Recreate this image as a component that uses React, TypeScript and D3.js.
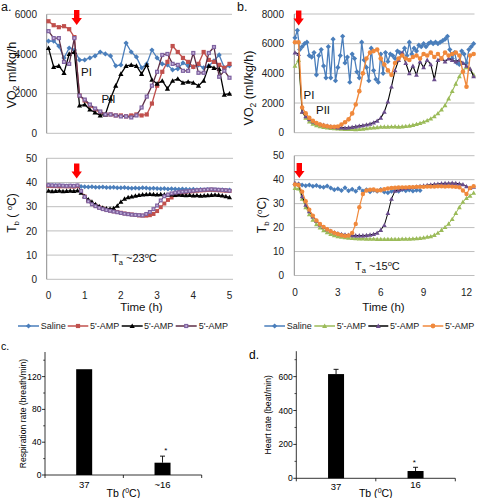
import React from 'react';
import * as d3 from 'd3';

// ---------- Panel a data (VO2, 36 samples over 0-5 h) ----------
const aVO2Saline = [4650,4650,4400,3800,4300,4200,3700,3700,3800,3900,4100,4000,3900,3400,3450,4550,4100,3850,3300,3500,4200,3800,3500,3450,3200,3250,3550,3400,3350,3450,3300,3400,3650,3950,3300,3400];
const aVO2Red = [5650,5450,5350,5400,5250,4850,1900,1650,1400,1200,1050,950,950,900,900,850,900,950,900,950,1500,2400,3100,3600,4400,4100,3800,3600,3350,3500,4100,3700,3600,3450,3300,3500];
const aVO2Black = [4300,3350,3400,3050,4000,4100,1400,1450,1200,1050,900,950,1750,2400,3000,3400,3450,3400,3000,3450,2700,2500,2650,2250,2650,2750,2550,2600,2550,2400,2650,3400,3300,3250,1950,2000];
const aVO2Purple = [5150,4800,4800,3600,3500,4800,1900,1700,1450,1250,1100,950,950,900,850,850,800,900,1300,1850,2400,3100,3950,4000,3500,3450,3150,3150,4050,3050,3050,4050,4350,2850,3150,2800];

// ---------- Panel a data (Tb, 51 samples every 0.1 h) ----------
const aTbSaline = [38.9,38.8,38.8,38.7,38.7,38.6,38.6,38.6,38.6,38.3,38.2,38.1,38.2,38.0,38.0,38.1,37.9,37.9,38.0,37.8,37.8,37.9,37.7,37.6,37.7,37.6,37.8,37.7,37.5,37.6,37.5,37.4,37.5,37.3,37.4,37.3,37.2,37.3,37.2,37.1,37.2,37.0,37.1,37.0,37.1,36.9,37.0,36.9,37.0,36.8,36.9];
const aTbRed = [38.6,38.5,38.5,38.4,38.5,38.4,38.4,38.3,38.5,36.5,34.2,32.4,31.2,30.4,29.7,29.2,28.7,28.4,28.1,27.8,27.5,27.2,27.0,26.8,26.6,26.4,26.3,26.3,26.5,27.0,28.2,29.8,31.3,32.8,33.8,34.8,35.4,35.9,36.1,36.3,36.4,36.6,36.7,36.8,36.9,37.0,36.9,36.8,36.7,36.6,36.5];
const aTbBlack = [36.6,36.4,36.5,36.6,36.4,36.5,36.6,36.5,36.7,35.8,34.3,33.0,32.0,31.0,30.2,29.6,29.3,29.2,29.4,30.4,32.0,33.3,33.9,34.2,34.5,34.8,35.0,35.1,35.2,35.1,35.0,35.1,35.0,34.9,35.0,34.8,34.9,34.8,34.7,34.8,34.6,34.7,34.5,34.6,34.7,34.8,34.9,34.8,34.6,34.3,33.9];
const aTbPurple = [38.9,38.8,38.7,38.8,38.7,38.6,38.7,38.6,38.8,36.5,34.0,32.2,31.0,30.2,29.5,29.0,28.6,28.3,28.0,27.7,27.4,27.1,26.9,26.7,26.6,26.5,26.4,27.0,27.8,29.0,30.5,32.6,34.3,35.0,35.5,35.8,36.0,36.2,36.3,36.5,36.6,36.8,36.9,37.0,37.1,37.2,37.1,37.0,36.9,36.8,36.6];

// ---------- Panel b data (VO2) ----------
// saline every 10 min (0-12.5 h), others every 15 min
const bVO2Saline = [6400,6900,5600,5800,6000,6100,5200,5100,5400,3900,5200,5600,4500,3700,5800,3700,6300,3500,4400,5200,6500,4700,5100,3400,5300,5000,4100,3700,6100,4900,4400,3500,5700,4200,3600,3400,5300,4000,5400,4800,5300,5200,5000,5500,5400,5300,5700,5200,6100,5300,5700,5500,5900,5800,6000,5800,6000,6100,6000,6100,6000,6100,6200,6300,6500,5600,5000,5400,4700,4600,5500,5300,4700,5600,5800,6000];
const bVO2Green = [4500,4900,1400,1000,750,600,500,430,380,340,310,290,270,260,250,240,240,230,240,260,290,320,350,370,390,400,400,410,420,400,420,440,470,520,580,650,730,830,950,1100,1300,1550,1850,2300,2800,3300,3800,4200,4400,4300,3900];
const bVO2Purple = [5400,5300,1400,1100,900,750,650,580,520,470,420,380,350,340,330,350,380,420,460,500,540,600,680,800,1000,1400,2100,3100,4200,4900,5400,4700,4000,4500,3900,4800,4400,4900,4600,3600,4900,5000,4800,5000,4900,4800,4900,4700,4500,4300,3800];
const bVO2Orange = [6100,6100,1700,1300,1000,800,650,550,480,430,400,400,420,550,700,900,1300,1900,2800,4000,5000,5400,5500,5600,5000,4600,4200,3900,4700,5000,5200,5000,4900,5100,5200,5000,5300,5200,5400,5100,5300,5000,5400,5200,5300,5400,5200,4100,3100,5200,5300];

// ---------- Panel b data (Tb, every 15 min) ----------
const bTbSaline = [38.0,38.2,37.8,37.5,37.8,37.2,37.6,37.0,36.8,37.4,36.5,35.8,36.2,35.5,36.6,35.4,36.0,35.2,36.5,35.3,35.8,35.0,35.6,35.2,35.9,34.8,34.5,35.2,35.6,35.2,35.8,35.4,35.7,35.3,35.6,35.5];
const bTbGreen = [36.5,36.3,32.0,28.5,25.5,23.2,21.4,20.0,18.9,18.0,17.3,16.8,16.4,16.1,15.9,15.7,15.6,15.5,15.4,15.4,15.3,15.3,15.3,15.2,15.2,15.2,15.2,15.2,15.2,15.2,15.3,15.3,15.3,15.4,15.5,15.6,15.8,16.1,16.3,16.9,17.8,19.0,20.2,21.6,23.5,26.0,28.5,30.7,32.3,33.3,34.5];
const bTbPurple = [38.6,38.2,33.0,29.5,26.8,24.6,22.8,21.3,20.2,19.3,18.6,18.0,17.6,17.3,17.1,16.9,16.8,16.7,16.7,16.7,16.8,17.0,17.3,17.8,19.0,21.0,26.0,32.0,35.3,35.8,36.2,36.5,36.7,36.9,37.1,37.3,37.5,37.7,37.9,38.1,38.2,38.4,38.5,38.5,38.6,38.5,38.3,38.0,37.2,36.5,37.0];
const bTbOrange = [38.0,37.8,35.0,31.0,27.5,25.0,23.0,21.5,20.3,19.3,18.5,17.8,17.3,16.8,16.5,16.7,17.8,21.5,28.5,34.0,35.5,35.8,35.9,35.5,35.6,36.0,36.3,36.5,36.6,36.7,36.8,36.8,36.9,36.9,37.0,37.0,37.0,37.1,37.1,37.1,37.2,37.2,37.1,37.2,37.1,37.0,36.8,35.5,34.0,36.5,37.3];

// ---------- Panels c, d ----------
const barCats = ['37', '~16'];
const respRate = [129, 15];
const respErr = [0, 8];
const heartCats = ['37', '16'];
const heartRate = [615, 43];
const heartErr = [28, 22];

const aVO2Ticks = [0, 2000, 4000, 6000];
const bVO2Ticks = [0, 2000, 4000, 6000, 8000];
const tbTicks = [0, 10, 20, 30, 40, 50];
const aTimeTicks = [0, 1, 2, 3, 4, 5];
const bTimeTicks = [0, 3, 6, 9, 12];
const legendNames = ['Saline', "5'-AMP", "5'-AMP", "5'-AMP"];

const FONT = "'Liberation Sans', Arial, Helvetica, sans-serif";
const GRID = '#BEBEBE';
const AXIS = '#8C8C8C';

const C = {
  blue: '#4A7EBB',
  red: '#C0504D',
  black: '#000000',
  purple: '#8064A2',
  purpleLine: '#5C2E46',
  green: '#9BBB59',
  bPurple: '#6A4C8C',
  orange: '#F0893C',
};

const aT = d3.range(aVO2Saline.length).map((i) => (i * 5) / (aVO2Saline.length - 1));
const aTbT = d3.range(aTbSaline.length).map((i) => i * 0.1);
const bSalT = d3.range(bVO2Saline.length).map((i) => i / 6);
const bT = d3.range(51).map((i) => i * 0.25);

type Kind = 'diamond' | 'square' | 'triangle' | 'circle' | 'squareDot';

function markerPath(kind: Kind, x: number, y: number, r: number) {
  if (kind === 'diamond') return `M${x},${y - r}L${x + r},${y}L${x},${y + r}L${x - r},${y}Z`;
  if (kind === 'triangle') return `M${x},${y - r}L${x + r},${y + r * 0.8}L${x - r},${y + r * 0.8}Z`;
  if (kind === 'circle') return `M${x - r},${y}a${r},${r} 0 1,0 ${2 * r},0a${r},${r} 0 1,0 ${-2 * r},0Z`;
  return `M${x - r},${y - r}h${2 * r}v${2 * r}h${-2 * r}Z`;
}

function Marker({ kind, x, y, r, color }: any) {
  if (kind === 'squareDot') {
    return (
      <g>
        <path d={markerPath('square', x, y, r)} fill={color} />
        <path d={markerPath('square', x, y, r * 0.4)} fill="#C9B8DD" />
      </g>
    );
  }
  return <path d={markerPath(kind, x, y, r)} fill={color} />;
}

function Series({ ts, vals, sx, sy, color, lineColor, kind, r, lw = 1.3 }: any) {
  const pts: [number, number][] = vals.map((v: number, i: number) => [sx(ts[i]), sy(v)]);
  const d = d3.line()(pts) || '';
  return (
    <g>
      <path d={d} fill="none" stroke={lineColor || color} strokeWidth={lw} strokeLinejoin="round" />
      {pts.map((p, i) => (
        <Marker key={i} kind={kind} x={p[0]} y={p[1]} r={r} color={color} />
      ))}
    </g>
  );
}

function Arrow({ cx, y0 }: { cx: number; y0: number }) {
  const d = `M${cx - 2.7},${y0}H${cx + 2.7}V${y0 + 8}H${cx + 5.2}L${cx},${y0 + 15}L${cx - 5.2},${y0 + 8}H${cx - 2.7}Z`;
  return <path d={d} fill="#FF0000" />;
}

function YGrid({ ticks, sy, x0, x1, labelX, fs = 10 }: any) {
  return (
    <g>
      {ticks.map((t: number) => (
        <g key={t}>
          <line x1={x0} x2={x1} y1={sy(t)} y2={sy(t)} stroke={GRID} strokeWidth={1} />
          <text x={labelX} y={sy(t) + 3.6} textAnchor="end" fontSize={fs} fill="#222">
            {t}
          </text>
        </g>
      ))}
      <line x1={x0} x2={x0} y1={sy(ticks[ticks.length - 1])} y2={sy(0)} stroke={AXIS} strokeWidth={1} />
    </g>
  );
}

function LegendItem({ x0, x1, tx, y, color, lineColor, kind, r, name }: any) {
  return (
    <g>
      <line x1={x0} x2={x1} y1={y} y2={y} stroke={lineColor || color} strokeWidth={1.5} />
      <Marker kind={kind} x={(x0 + x1) / 2} y={y} r={r} color={color} />
      <text x={tx} y={y + 3.2} fontSize={9} fill="#222">
        {name}
      </text>
    </g>
  );
}

function BarPanel({ cats, vals, errs, yMax, major, minor, x0, x1, y0, y1, ylabel, ylabelX, letter, letterPos, letterFs, ast, catY }: any) {
  const sx = d3.scaleBand().domain(cats).range([x0, x1]);
  const sy = d3.scaleLinear().domain([0, yMax]).range([y0, y1]);
  const bw = 16;
  const mid = (x0 + x1) / 2;
  return (
    <g fill="#000">
      <text x={letterPos[0]} y={letterPos[1]} fontSize={letterFs}>{letter}</text>
      <line x1={x0} x2={x0} y1={y1} y2={y0} stroke="#000" strokeWidth={0.8} />
      <line x1={x0} x2={x1} y1={y0} y2={y0} stroke="#000" strokeWidth={0.8} />
      {major.map((t: number) => (
        <g key={'M' + t}>
          <line x1={x0 - 3} x2={x0} y1={sy(t)} y2={sy(t)} stroke="#000" strokeWidth={0.8} />
          <text x={x0 - 3.5} y={sy(t) + 3} fontSize={8.5} textAnchor="end">{t}</text>
        </g>
      ))}
      {minor.map((t: number) => (
        <line key={'m' + t} x1={x0 - 1.8} x2={x0} y1={sy(t)} y2={sy(t)} stroke="#000" strokeWidth={0.7} />
      ))}
      {[x0, mid, x1].map((x: number, i: number) => (
        <line key={'xt' + i} x1={x} x2={x} y1={y0} y2={y0 + 3} stroke="#000" strokeWidth={0.8} />
      ))}
      {cats.map((c: string, i: number) => {
        const cx = (sx(c) as number) + sx.bandwidth() / 2;
        const top = sy(vals[i]);
        const et = sy(vals[i] + errs[i]);
        return (
          <g key={c}>
            <rect x={cx - bw / 2} y={top} width={bw} height={y0 - top} fill="#000" />
            {errs[i] > 0 && (
              <g stroke="#000" strokeWidth={0.9}>
                <line x1={cx} x2={cx} y1={top} y2={et} />
                <line x1={cx - 2.5} x2={cx + 2.5} y1={et} y2={et} />
              </g>
            )}
            <text x={cx} y={catY[i]} fontSize={9.5} textAnchor="middle">{c}</text>
          </g>
        );
      })}
      <text x={ast[0]} y={ast[1]} fontSize={8} textAnchor="middle">*</text>
      <text x={mid} y={catY[2]} fontSize={10.5} textAnchor="middle">
        Tb (<tspan dy={-4} fontSize={7}>0</tspan><tspan dy={4}>C)</tspan>
      </text>
      <text transform={`translate(${ylabelX},${(y0 + y1) / 2}) rotate(-90)`} fontSize={8.6} textAnchor="middle">
        {ylabel}
      </text>
    </g>
  );
}

export default function App() {
  // panel a scales
  const aX = d3.scaleLinear().domain([0, 5]).range([48.5, 229.5]);
  const aVY = d3.scaleLinear().domain([0, 6000]).range([133.3, 14.3]);
  const aTY = d3.scaleLinear().domain([0, 50]).range([279.3, 158.3]);
  // panel b scales
  const bX = d3.scaleLinear().domain([0, 12]).range([295, 466.5]);
  const bVY = d3.scaleLinear().domain([0, 8000]).range([132.7, 14]);
  const bTY = d3.scaleLinear().domain([0, 50]).range([275.5, 155.7]);

  const aL = 46.7, aR = 232;
  const bL = 294.3, bR = 474.5;

  return (
    <svg
      width={477}
      height={498}
      viewBox="0 0 477 498"
      style={{ position: 'absolute', left: 0, top: 0, background: '#fff' }}
      fontFamily={FONT}
    >
      <rect width={477} height={498} fill="#fff" />

      {/* ===== Panel a top ===== */}
      <text x={1} y={11} fontSize={12.5} fill="#111">a.</text>
      <YGrid ticks={aVO2Ticks} sy={aVY} x0={aL} x1={aR} labelX={37} />
      <text transform={`translate(16,${75}) rotate(-90)`} fontSize={12.5} textAnchor="middle" fill="#111">
        VO<tspan dy={3} fontSize={8.5}>2</tspan><tspan dy={-3}> ml/kg/h</tspan>
      </text>
      <Series ts={aT} vals={aVO2Saline} sx={aX} sy={aVY} color={C.blue} kind="diamond" r={2.6} />
      <Series ts={aT} vals={aVO2Red} sx={aX} sy={aVY} color={C.red} kind="square" r={2.1} />
      <Series ts={aT} vals={aVO2Black} sx={aX} sy={aVY} color={C.black} kind="triangle" r={2.6} />
      <Series ts={aT} vals={aVO2Purple} sx={aX} sy={aVY} color={C.purple} lineColor={C.purpleLine} kind="squareDot" r={2.1} />
      <text x={81} y={76} fontSize={11.5} fill="#111">PI</text>
      <text x={101.5} y={102.5} fontSize={11.5} fill="#111">PII</text>
      <Arrow cx={76.7} y0={10} />

      {/* ===== Panel a bottom ===== */}
      <YGrid ticks={tbTicks} sy={aTY} x0={aL} x1={aR + 1} labelX={37} />
      {aTimeTicks.map((t) => (
        <text key={t} x={aX(t)} y={299} fontSize={10} textAnchor="middle" fill="#222">{t}</text>
      ))}
      <text transform={`translate(16,${213}) rotate(-90)`} fontSize={12} textAnchor="middle" fill="#111">
        T<tspan dy={3} fontSize={8}>b</tspan><tspan dy={-3}> ( </tspan><tspan dy={-4} fontSize={8}>o</tspan><tspan dy={4}>C)</tspan>
      </text>
      <Series ts={aTbT} vals={aTbSaline} sx={aX} sy={aTY} color={C.blue} kind="diamond" r={2.5} lw={1} />
      <Series ts={aTbT} vals={aTbRed} sx={aX} sy={aTY} color={C.red} kind="square" r={2} lw={1} />
      <Series ts={aTbT} vals={aTbBlack} sx={aX} sy={aTY} color={C.black} kind="triangle" r={2.5} lw={1} />
      <Series ts={aTbT} vals={aTbPurple} sx={aX} sy={aTY} color={C.purple} lineColor={C.purpleLine} kind="squareDot" r={2} lw={1} />
      <Arrow cx={76.7} y0={163.5} />
      <text x={112} y={262} fontSize={11} fill="#111">
        T<tspan dy={2.5} fontSize={7.5}>a</tspan><tspan dy={-2.5}> ~23</tspan><tspan dy={-4} fontSize={7.5}>o</tspan><tspan dy={4}>C</tspan>
      </text>
      <text x={141.5} y={311} fontSize={11.5} textAnchor="middle" fill="#111">Time (h)</text>

      {/* ===== Panel b top ===== */}
      <text x={237} y={11} fontSize={12.5} fill="#111">b.</text>
      <YGrid ticks={bVO2Ticks} sy={bVY} x0={bL} x1={bR} labelX={284} />
      <text transform={`translate(${253},${88}) rotate(-90)`} fontSize={12.5} textAnchor="middle" fill="#111">
        VO<tspan dy={3} fontSize={8.5}>2</tspan><tspan dy={-3}> (ml/kg/h)</tspan>
      </text>
      <Series ts={bSalT} vals={bVO2Saline} sx={bX} sy={bVY} color={C.blue} kind="diamond" r={2.6} lw={1.3} />
      <Series ts={bT} vals={bVO2Green} sx={bX} sy={bVY} color={C.green} kind="triangle" r={2.4} lw={1.1} />
      <Series ts={bT} vals={bVO2Purple} sx={bX} sy={bVY} color={C.bPurple} lineColor="#000" kind="triangle" r={2.4} lw={1.1} />
      <Series ts={bT} vals={bVO2Orange} sx={bX} sy={bVY} color={C.orange} kind="circle" r={2.3} lw={1.4} />
      <text x={303.5} y={99} fontSize={11.5} fill="#111">PI</text>
      <text x={316} y={114} fontSize={11.5} fill="#111">PII</text>
      <Arrow cx={298.7} y0={10.5} />

      {/* ===== Panel b bottom ===== */}
      <YGrid ticks={tbTicks} sy={bTY} x0={bL} x1={bR} labelX={284} />
      {bTimeTicks.map((t) => (
        <text key={t} x={bX(t)} y={296} fontSize={10} textAnchor="middle" fill="#222">{t}</text>
      ))}
      <text transform={`translate(${266},${215}) rotate(-90)`} fontSize={12} textAnchor="middle" fill="#111">
        T<tspan dy={3} fontSize={8}>b</tspan><tspan dy={-3}> (</tspan><tspan dy={-4} fontSize={8}>o</tspan><tspan dy={4}>C)</tspan>
      </text>
      <Series ts={bT} vals={bTbSaline} sx={bX} sy={bTY} color={C.blue} kind="diamond" r={2.5} lw={1} />
      <Series ts={bT} vals={bTbGreen} sx={bX} sy={bTY} color={C.green} kind="triangle" r={2.4} lw={1} />
      <Series ts={bT} vals={bTbPurple} sx={bX} sy={bTY} color={C.bPurple} lineColor="#000" kind="triangle" r={2.4} lw={1} />
      <Series ts={bT} vals={bTbOrange} sx={bX} sy={bTY} color={C.orange} kind="circle" r={2.2} lw={1.2} />
      <Arrow cx={299.3} y0={163} />
      <text x={355} y={270} fontSize={11} fill="#111">
        T<tspan dy={2.5} fontSize={7.5}>a</tspan><tspan dy={-2.5}> ~15</tspan><tspan dy={-4} fontSize={7.5}>o</tspan><tspan dy={4}>C</tspan>
      </text>
      <text x={383.5} y={311} fontSize={11.5} textAnchor="middle" fill="#111">Time (h)</text>

      {/* ===== Legends ===== */}
      <LegendItem x0={18} x1={39} tx={40.7} y={326} color={C.blue} kind="diamond" r={2.6} name={legendNames[0]} />
      <LegendItem x0={67.7} x1={88.3} tx={90} y={326} color={C.red} kind="square" r={2.1} name={legendNames[1]} />
      <LegendItem x0={121.7} x1={142.7} tx={144} y={326} color={C.black} kind="triangle" r={2.6} name={legendNames[2]} />
      <LegendItem x0={175.7} x1={196.7} tx={198.7} y={326} color={C.purple} lineColor={C.purpleLine} kind="squareDot" r={2.1} name={legendNames[3]} />

      <LegendItem x0={264.3} x1={285} tx={286.7} y={326} color={C.blue} kind="diamond" r={2.6} name={legendNames[0]} />
      <LegendItem x0={314.3} x1={335} tx={336.7} y={326} color={C.green} kind="triangle" r={2.5} name={legendNames[1]} />
      <LegendItem x0={368.3} x1={388.3} tx={390} y={326} color={C.bPurple} lineColor="#000" kind="triangle" r={2.5} name={legendNames[2]} />
      <LegendItem x0={422.7} x1={443.3} tx={445} y={326} color={C.orange} kind="circle" r={2.4} name={legendNames[3]} />

      {/* ===== Panel c ===== */}
      <BarPanel
        cats={barCats} vals={respRate} errs={respErr} yMax={150}
        major={[0, 40, 80, 120]} minor={[20, 60, 100, 140]}
        x0={45} x1={201.7} y0={475} y1={352}
        ylabel="Respiration rate (breath/min)" ylabelX={26}
        letter="c." letterPos={[1, 350]} letterFs={10.5}
        ast={[165.7, 453]} catY={[488, 488, 497]}
      />

      {/* ===== Panel d ===== */}
      <BarPanel
        cats={heartCats} vals={heartRate} errs={heartErr} yMax={750}
        major={[0, 200, 400, 600]} minor={[100, 300, 500, 700]}
        x0={296.3} x1={455.3} y0={478.3} y1={351.2}
        ylabel="Heart rate (beat/min)" ylabelX={271}
        letter="d." letterPos={[249, 359]} letterFs={12}
        ast={[414.3, 465]} catY={[490, 488, 497]}
      />
    </svg>
  );
}
